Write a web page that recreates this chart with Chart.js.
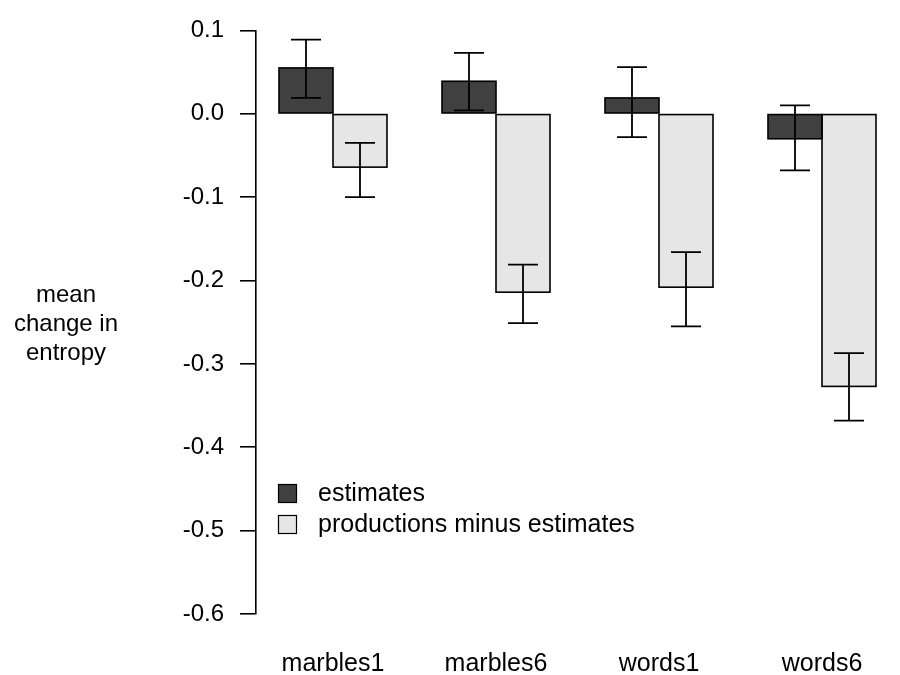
<!DOCTYPE html>
<html>
<head>
<meta charset="utf-8">
<script src="https://cdn.jsdelivr.net/npm/chart.js@4"></script>
<style>
  html, body { margin: 0; padding: 0; background: #fff; }
  #wrap { width: 900px; height: 675px; }
</style>
</head>
<body>
<div id="wrap"><canvas id="chart" width="900" height="675"></canvas></div>
<script>
// values
const categories = ['marbles1', 'marbles6', 'words1', 'words6'];
const estimates = [0.055, 0.039, 0.019, -0.030];
const estLow = [0.019, 0.004, -0.028, -0.068];
const estHigh = [0.089, 0.073, 0.056, 0.010];
const productions = [-0.064, -0.214, -0.208, -0.327];
const prodLow = [-0.100, -0.251, -0.255, -0.368];
const prodHigh = [-0.035, -0.181, -0.166, -0.287];
const yTicks = [0.1, 0.0, -0.1, -0.2, -0.3, -0.4, -0.5, -0.6];
const yTitle = ['mean', 'change in', 'entropy'];

const FONT = '"Liberation Sans", Arial, Helvetica, sans-serif';
const FONT_SIZE = 24;

// bar outlines (centred on the edges, like R) and error bars
const errorBars = {
    id: 'errorBars',
    afterDatasetsDraw(chart) {
        const ctx = chart.ctx;
        const y = chart.scales.y;
        ctx.save();
        ctx.strokeStyle = '#000';
        ctx.lineWidth = 1.6;
        chart.data.datasets.forEach((ds, di) => {
            const meta = chart.getDatasetMeta(di);
            meta.data.forEach((bar) => {
                const p = bar.getProps(['x', 'y', 'base', 'width'], true);
                const top = Math.min(p.y, p.base);
                ctx.strokeRect(p.x - p.width / 2, top, p.width, Math.abs(p.base - p.y));
            });
        });
        ctx.lineWidth = 1.8;
        chart.data.datasets.forEach((ds, di) => {
            const meta = chart.getDatasetMeta(di);
            meta.data.forEach((bar, i) => {
                const x = bar.x;
                const top = y.getPixelForValue(ds.errHigh[i]);
                const bot = y.getPixelForValue(ds.errLow[i]);
                ctx.beginPath();
                ctx.moveTo(x, top); ctx.lineTo(x, bot);
                ctx.moveTo(x - 15, top); ctx.lineTo(x + 15, top);
                ctx.moveTo(x - 15, bot); ctx.lineTo(x + 15, bot);
                ctx.stroke();
            });
        });
        ctx.restore();
    }
};

// horizontal y title and the in-plot legend
const extras = {
    id: 'extras',
    afterDraw(chart) {
        const ctx = chart.ctx;
        ctx.save();
        ctx.fillStyle = '#000';
        ctx.font = FONT_SIZE + 'px ' + FONT;
        ctx.textAlign = 'center';
        ctx.textBaseline = 'middle';
        yTitle.forEach((t, i) => ctx.fillText(t, 66, 295 + i * 29));

        ctx.font = '25px ' + FONT;
        ctx.textAlign = 'left';
        chart.data.datasets.forEach((ds, i) => {
            const top = 484 + i * 31;
            ctx.fillStyle = ds.backgroundColor;
            ctx.fillRect(278, top, 19, 19);
            ctx.strokeStyle = '#000';
            ctx.lineWidth = 1.2;
            ctx.strokeRect(278.5, top + 0.5, 18, 18);
            ctx.fillStyle = '#000';
            ctx.fillText(ds.label, 318, top + 10);
        });
        ctx.restore();
    }
};

const chartLeft = 256;
const chartRight = 895;
const step = 163;
const xMin = 1 - (333 - chartLeft) / step;
const xMax = xMin + (chartRight - chartLeft) / step;

new Chart(document.getElementById('chart'), {
    type: 'bar',
    data: {
        datasets: [
            {
                label: 'estimates',
                data: estimates.map((v, i) => ({ x: i + 1, y: v })),
                errLow: estLow,
                errHigh: estHigh,
                backgroundColor: '#404040',
                borderWidth: 0,
                inflateAmount: 0
            },
            {
                label: 'productions minus estimates',
                data: productions.map((v, i) => ({ x: i + 1, y: v })),
                errLow: prodLow,
                errHigh: prodHigh,
                backgroundColor: '#e6e6e6',
                borderWidth: 0,
                inflateAmount: 0
            }
        ]
    },
    options: {
        responsive: false,
        animation: false,
        layout: { padding: { top: 30, right: 900 - chartRight, left: 0, bottom: 0 } },
        datasets: { bar: { categoryPercentage: 108 / step, barPercentage: 1 } },
        plugins: {
            legend: { display: false },
            tooltip: { enabled: false }
        },
        scales: {
            x: {
                type: 'linear',
                min: xMin,
                max: xMax,
                offset: false,
                grid: { display: false, drawTicks: false },
                border: { display: false },
                afterBuildTicks: (scale) => {
                    scale.ticks = categories.map((c, i) => ({ value: i + 1 }));
                },
                afterFit: (scale) => { scale.height = 675 - 614; },
                ticks: {
                    color: '#000',
                    font: { size: 25, family: FONT },
                    padding: 35,
                    maxRotation: 0,
                    autoSkip: false,
                    callback: (v) => categories[Math.round(v) - 1] || ''
                }
            },
            y: {
                min: -0.6,
                max: 0.1,
                grid: {
                    drawOnChartArea: false,
                    drawTicks: true,
                    tickLength: 16,
                    color: '#000',
                    lineWidth: 1.6
                },
                border: { display: true, color: '#000', width: 1.6 },
                afterBuildTicks: (scale) => {
                    scale.ticks = yTicks.map(v => ({ value: v }));
                },
                afterFit: (scale) => { scale.width = chartLeft; },
                ticks: {
                    color: '#000',
                    font: { size: FONT_SIZE, family: FONT },
                    padding: 16,
                    callback: (v) => {
                        const s = Number(v).toFixed(1);
                        return s === '-0.0' ? '0.0' : s;
                    }
                }
            }
        }
    },
    plugins: [errorBars, extras]
});
</script>
</body>
</html>
